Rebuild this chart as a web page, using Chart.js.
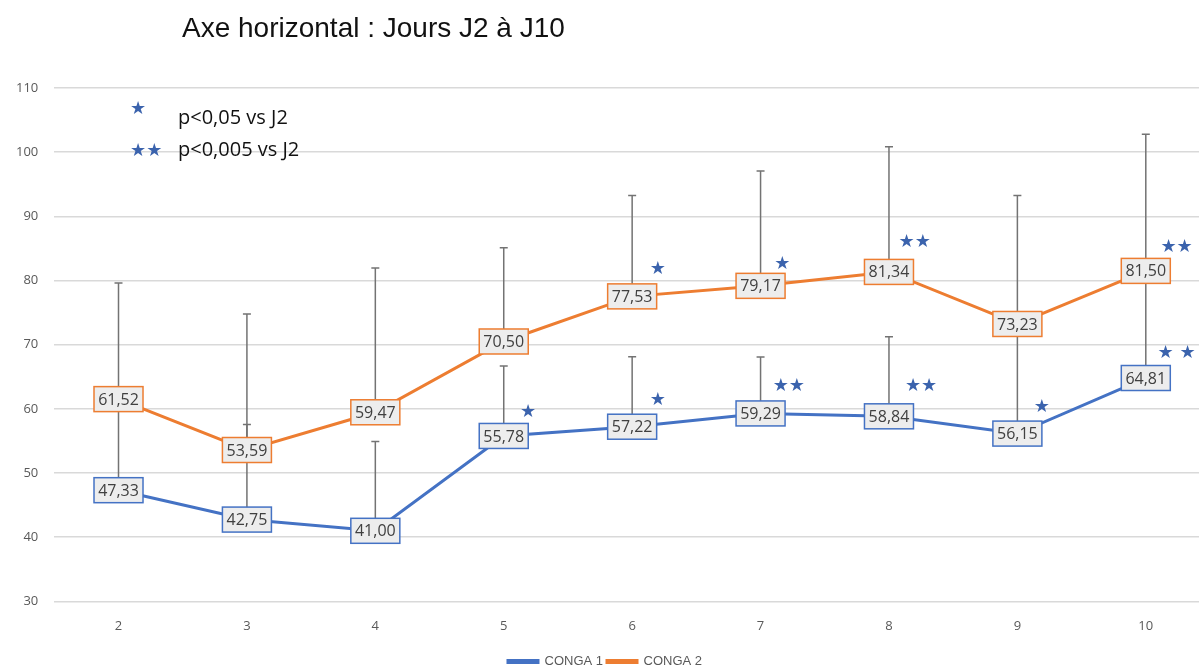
<!DOCTYPE html>
<html>
<head>
<meta charset="utf-8">
<script src="https://cdn.jsdelivr.net/npm/chart.js@4.4.1/dist/chart.umd.min.js"></script>
<style>
  html, body { margin: 0; padding: 0; background: #fff; overflow: hidden; }
  #wrap { position: relative; width: 1236px; height: 668px; overflow: hidden; }
  #title { position: absolute; left: 182px; top: 12px; font: 28px "Liberation Sans", Arial, sans-serif; color: #111; }
  .key { position: absolute; font: 20px "Open Sans", "Noto Sans", sans-serif; color: #111; }
  .key span { color: #3B63AD; font: 18px "DejaVu Sans", sans-serif; position: absolute; }
</style>
</head>
<body>
<div id="wrap">
  <canvas id="congaChart" width="1236" height="678"></canvas>
  <div id="title">Axe horizontal : Jours J2 à J10</div>
  <div class="key" style="left:178px; top:103px;"><span style="left:-48px; top:-6px;">★</span>p&lt;0,05 vs J2</div>
  <div class="key" style="left:178px; top:135px;"><span style="left:-48px; top:4px;">★★</span>p&lt;0,005 vs J2</div>
</div>
<script>
// Days J2..J10
const days = ['2', '3', '4', '5', '6', '7', '8', '9', '10'];
const conga1 = [47.33, 42.75, 41.00, 55.78, 57.22, 59.29, 58.84, 56.15, 64.81];
const conga2 = [61.52, 53.59, 59.47, 70.50, 77.53, 79.17, 81.34, 73.23, 81.50];
// upper error bars (SD), read from cap positions
const conga1Sd = [13.7, 14.8, 13.9, 10.9, 10.9, 8.8, 12.4, 16.4, 15.7];
const conga2Sd = [18.1, 21.2, 22.5, 14.6, 15.7, 17.9, 19.5, 20.0, 21.3];
const yTicks = [30, 40, 50, 60, 70, 80, 90, 100, 110];

// significance stars (day position, value, mark)
const starDay = [6.2, 7.17, 8.2, 10.24, 5.19, 6.2, 7.22, 8.25, 9.19, 10.24];
const starValue = [81.8, 82.6, 85.9, 85.2, 59.4, 61.4, 63.5, 63.5, 60.2, 68.7];
const starMark = ['★', '★', '★★', '★★', '★', '★', '★★', '★★', '★', '★ ★'];

const blue = '#4472C4';
const orange = '#ED7D31';

function fmt(v) {
    return v.toFixed(2).replace('.', ',');
}

const errorBars = {
    id: 'errorBars',
    beforeDatasetsDraw(chart) {
        const ctx = chart.ctx;
        const x = chart.scales.x, y = chart.scales.y;
        const sets = [[conga1, conga1Sd], [conga2, conga2Sd]];
        ctx.save();
        ctx.strokeStyle = '#737373';
        ctx.lineWidth = 1.5;
        sets.forEach(([vals, sd]) => {
            vals.forEach((v, i) => {
                const px = x.getPixelForValue(i);
                const y0 = y.getPixelForValue(v);
                const y1 = y.getPixelForValue(v + sd[i]);
                ctx.beginPath();
                ctx.moveTo(px, y0);
                ctx.lineTo(px, y1);
                ctx.moveTo(px - 4, y1);
                ctx.lineTo(px + 4, y1);
                ctx.stroke();
            });
        });
        ctx.restore();
    }
};

const labelsAndStars = {
    id: 'labelsAndStars',
    afterDatasetsDraw(chart) {
        const ctx = chart.ctx;
        const x = chart.scales.x, y = chart.scales.y;
        ctx.save();
        ctx.font = '16px "Open Sans", "Noto Sans", sans-serif';
        ctx.textAlign = 'center';
        ctx.textBaseline = 'middle';
        [[conga1, blue], [conga2, orange]].forEach(([vals, col]) => {
            vals.forEach((v, i) => {
                const px = x.getPixelForValue(i);
                const py = y.getPixelForValue(v);
                const w = 49, h = 25;
                ctx.fillStyle = '#EDEDED';
                ctx.fillRect(px - w / 2, py - h / 2, w, h);
                ctx.strokeStyle = col;
                ctx.lineWidth = 1.5;
                ctx.strokeRect(px - w / 2, py - h / 2, w, h);
                ctx.fillStyle = '#404040';
                ctx.fillText(fmt(v), px, py + 1);
            });
        });
        ctx.font = '18px "DejaVu Sans", sans-serif';
        ctx.fillStyle = '#3B63AD';
        starDay.forEach((d, i) => {
            const px = x.getPixelForValue(d - 2);
            const py = y.getPixelForValue(starValue[i]);
            ctx.fillText(starMark[i], px, py);
        });
        ctx.restore();
    }
};

new Chart(document.getElementById('congaChart'), {
    type: 'line',
    data: {
        labels: days,
        datasets: [{
            label: 'CONGA 1',
            data: conga1,
            borderColor: blue,
            backgroundColor: blue,
            borderWidth: 3,
            pointRadius: 0
        }, {
            label: 'CONGA 2',
            data: conga2,
            borderColor: orange,
            backgroundColor: orange,
            borderWidth: 3,
            pointRadius: 0
        }]
    },
    options: {
        responsive: false,
        animation: false,
        layout: { padding: { left: 0, right: 26, top: 88, bottom: 0 } },
        plugins: {
            legend: {
                position: 'bottom',
                labels: {
                    boxWidth: 30,
                    boxHeight: 2,
                    color: '#595959',
                    font: { size: 13, family: '"Liberation Sans Narrow", "Liberation Sans", sans-serif' },
                    padding: 4
                }
            },
            tooltip: { enabled: false }
        },
        scales: {
            x: {
                offset: true,
                afterFit(axis) {
                    axis.height += 8;
                },
                grid: { display: false },
                border: { display: false },
                ticks: { color: '#595959', font: { size: 13, family: '"Open Sans", sans-serif' }, padding: 9 }
            },
            y: {
                min: 30,
                max: 110,
                afterBuildTicks(axis) {
                    axis.ticks = yTicks.map(v => ({ value: v }));
                },
                grid: { color: '#D9D9D9', lineWidth: 1.5, drawTicks: false },
                border: { display: false },
                ticks: { color: '#595959', font: { size: 13, family: '"Open Sans", sans-serif' }, padding: 16 }
            }
        }
    },
    plugins: [errorBars, labelsAndStars]
});
</script>
</body>
</html>
